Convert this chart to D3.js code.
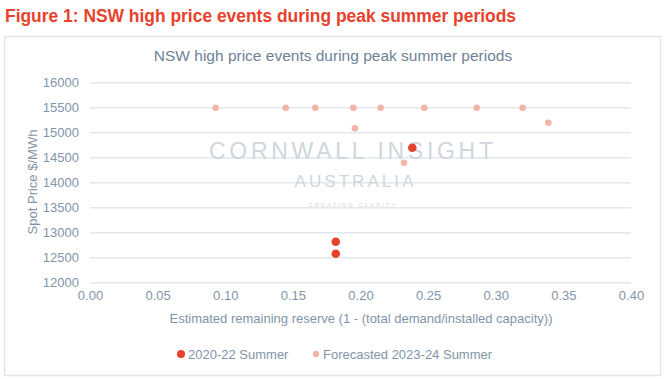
<!DOCTYPE html>
<html>
<head>
<meta charset="utf-8">
<script src="https://cdn.jsdelivr.net/npm/d3@7"></script>
<style>
  body { margin: 0; background: #fff; }
  svg { display: block; font-family: "Liberation Sans", Arial, sans-serif; }
</style>
</head>
<body>
<svg id="chart" width="665" height="379"></svg>
<script>
// actual events 2020-22 summer
const pastReserve = [0.1817, 0.1817, 0.2383];
const pastPrice = [12820, 12580, 14700];
// forecast 2023-24 summer
const fcReserve = [0.0929, 0.1447, 0.1666, 0.1947, 0.2149, 0.2472, 0.2859, 0.3199, 0.3389, 0.1959, 0.2322];
const fcPrice = [15500, 15500, 15500, 15500, 15500, 15500, 15500, 15500, 15200, 15090, 14400];
const yTicks = [12000, 12500, 13000, 13500, 14000, 14500, 15000, 15500, 16000];
const xTicks = [0, 0.05, 0.1, 0.15, 0.2, 0.25, 0.3, 0.35, 0.4];
const seriesNames = ['2020-22 Summer', 'Forecasted 2023-24 Summer'];

const red = '#e8412c', pale = '#f1b4a9', txt = '#8294a9';
const svg = d3.select('#chart');

svg.append('text').attr('x', 5).attr('y', 22)
  .text('Figure 1: NSW high price events during peak summer periods')
  .attr('fill', red).style('font-weight', 'bold').style('font-size', '18px')
  .attr('textLength', 511).attr('lengthAdjust', 'spacingAndGlyphs');

svg.append('rect').attr('x', 4.5).attr('y', 36.5).attr('width', 656).attr('height', 339)
  .attr('fill', 'none').attr('stroke', '#dfe6ec').attr('stroke-width', 1.5);

svg.append('text').attr('x', 333).attr('y', 61).attr('text-anchor', 'middle')
  .text('NSW high price events during peak summer periods')
  .attr('fill', '#6e8196').style('font-size', '15.5px');

const x = d3.scaleLinear().domain([0, 0.4]).range([90, 631]);
const y = d3.scaleLinear().domain([12000, 16000]).range([282.7, 82.7]);

// gridlines
svg.append('g').selectAll('line').data(yTicks).join('line')
  .attr('x1', 90).attr('x2', 631)
  .attr('y1', d => y(d)).attr('y2', d => y(d))
  .attr('stroke', '#e2e8ee').attr('stroke-width', 1.5);

const yAxis = svg.append('g').attr('transform', 'translate(90,0)')
  .call(d3.axisLeft(y).tickValues(yTicks).tickSize(0).tickPadding(11).tickFormat(d3.format('d')));
const xAxis = svg.append('g').attr('transform', 'translate(0,282.7)')
  .call(d3.axisBottom(x).tickValues(xTicks).tickSize(0).tickPadding(8).tickFormat(d3.format('.2f')));
[yAxis, xAxis].forEach(a => {
  a.select('.domain').remove();
  a.selectAll('text').attr('fill', txt).style('font-size', '13px')
    .style('font-family', '"Liberation Sans", Arial, sans-serif');
});

svg.append('text').attr('transform', 'translate(37,182) rotate(-90)').attr('text-anchor', 'middle')
  .text('Spot Price $/MWh').attr('fill', txt).style('font-size', '13px');
svg.append('text').attr('x', 361).attr('y', 323).attr('text-anchor', 'middle')
  .text('Estimated remaining reserve (1 - (total demand/installed capacity))')
  .attr('fill', txt).style('font-size', '13px');

// watermark
const wm = svg.append('g').attr('fill', '#d0d6dd').attr('text-anchor', 'middle');
wm.append('text').attr('x', 351).attr('y', 159).text('CORNWALL INSIGHT')
  .style('font-size', '23px').attr('textLength', 284).attr('lengthAdjust', 'spacing');
wm.append('text').attr('x', 354).attr('y', 187).text('AUSTRALIA')
  .style('font-size', '17px').attr('textLength', 119).attr('lengthAdjust', 'spacing');
wm.append('text').attr('x', 352).attr('y', 207).text('CREATING CLARITY')
  .style('font-size', '6px').attr('textLength', 87).attr('lengthAdjust', 'spacing');

svg.append('g').selectAll('circle').data(fcReserve).join('circle')
  .attr('cx', d => x(d)).attr('cy', (d, i) => y(fcPrice[i])).attr('r', 3.3).attr('fill', pale);
svg.append('g').selectAll('circle').data(pastReserve).join('circle')
  .attr('cx', d => x(d)).attr('cy', (d, i) => y(pastPrice[i])).attr('r', 4.3).attr('fill', red);

// legend
const leg = [{ cx: 181, tx: 188, c: red, r: 4 }, { cx: 316, tx: 323, c: pale, r: 3.2 }];
leg.forEach((l, i) => {
  svg.append('circle').attr('cx', l.cx).attr('cy', 354).attr('r', l.r).attr('fill', l.c);
  svg.append('text').attr('x', l.tx).attr('y', 358.5).text(seriesNames[i])
    .attr('fill', txt).style('font-size', '13px');
});
</script>
</body>
</html>
